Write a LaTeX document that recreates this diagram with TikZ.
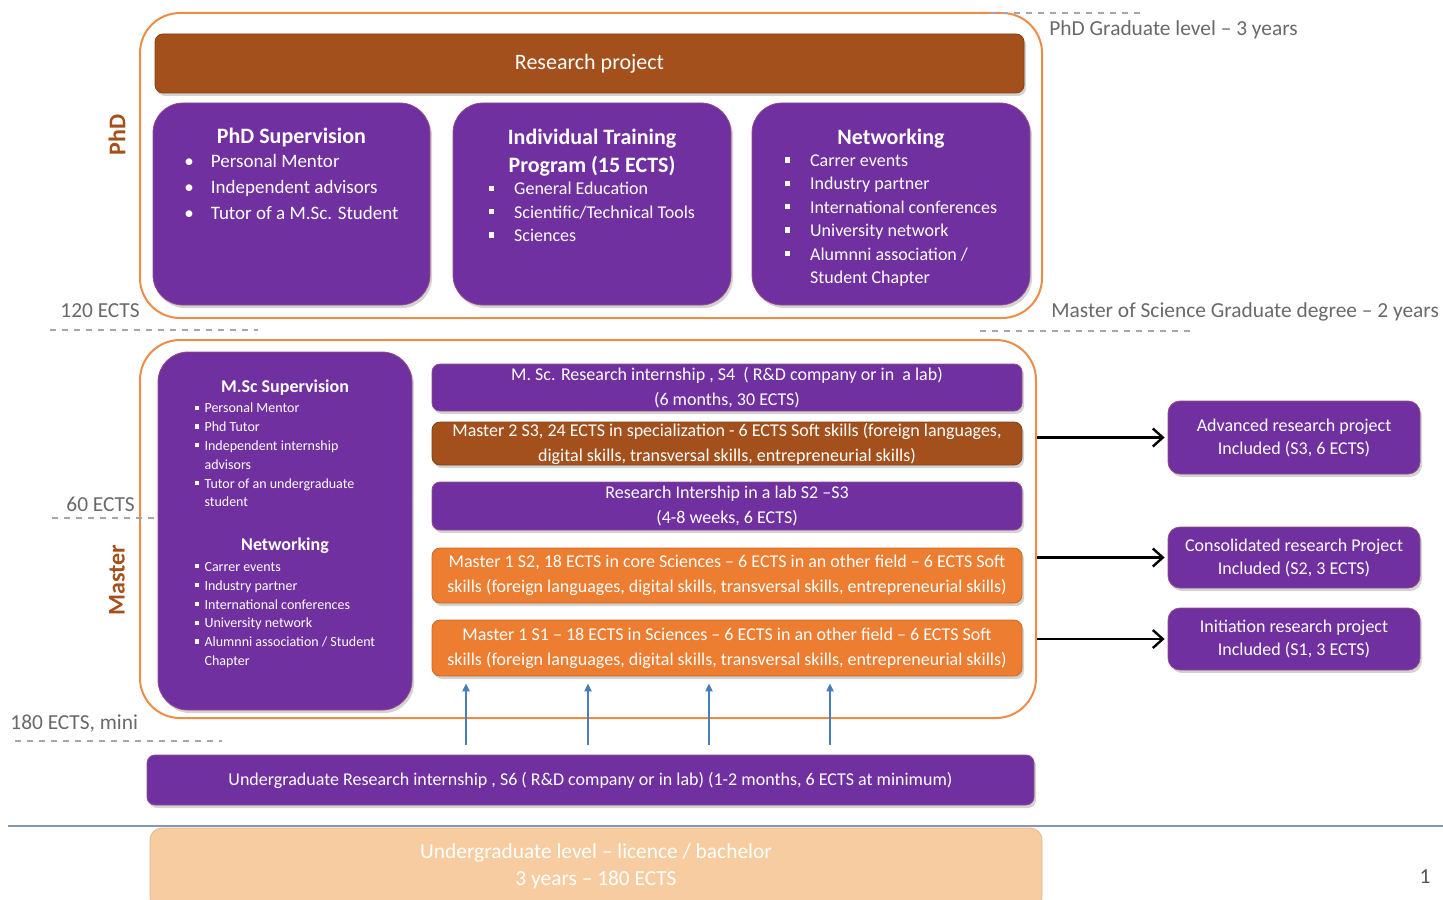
\documentclass[tikz,border=0pt]{standalone}
\usepackage{fontspec}
\setmainfont{Carlito}
\usetikzlibrary{arrows.meta, fit, positioning, shadows}

\definecolor{phdpurple}{RGB}{112,48,160}
\definecolor{rustbrown}{RGB}{163,80,28}
\definecolor{mastorange}{RGB}{237,125,49}
\definecolor{frameorange}{RGB}{236,140,72}
\definecolor{peach}{RGB}{247,204,160}
\definecolor{labelgray}{RGB}{105,105,105}
\definecolor{arrowblue}{RGB}{74,126,187}
\definecolor{rulegray}{RGB}{132,151,176}

\newcommand{\rbul}{\textbullet}
\newcommand{\sbul}{\raisebox{0.22em}{\rule{0.3em}{0.3em}}}

\begin{document}
\begin{tikzpicture}[
        x=0.5pt, y=-0.5pt,
        level-frame/.style={
            draw=frameorange,
            line width=1pt,
            rounded corners=20pt,
            inner sep=0pt,
        },
        box-purple/.style={
            fill=phdpurple,
            draw=phdpurple!70!frameorange,
            rounded corners=15pt,
            inner sep=0pt,
            text=white,
            align=center,
            drop shadow={opacity=0.35, shadow xshift=1pt, shadow yshift=-1.5pt},
        },
        bar-purple/.style={
            box-purple,
            rounded corners=4pt,
            minimum width=295pt,
            font=\fontsize{9}{12.5}\selectfont,
        },
        bar-brown/.style={
            bar-purple,
            fill=rustbrown,
            draw=rustbrown!80!black,
        },
        bar-orange/.style={
            bar-purple,
            fill=mastorange,
            draw=mastorange!85!black,
        },
        box-project/.style={
            bar-purple,
            rounded corners=6pt,
            minimum width=126pt,
            font=\fontsize{9}{11.5}\selectfont,
        },
        box-text/.style={
            text=white,
            align=center,
            inner sep=0pt,
        },
        side-label/.style={
            text=labelgray,
            font=\fontsize{10.7}{12}\selectfont,
            inner sep=0pt,
        },
        level-label/.style={
            text=rustbrown,
            font=\bfseries\fontsize{12}{14}\selectfont,
            rotate=90,
        },
        ects-line/.style={
            draw=labelgray!60,
            dashed,
            line width=0.8pt,
        },
        link-next/.style={
            line width=1.2pt,
            -{Straight Barb[length=5pt,width=9pt]},
            shorten >=1.5pt,
        },
        link-up/.style={
            draw=arrowblue,
            line width=1pt,
            -{Triangle[length=4pt,width=3.5pt]},
            shorten <=5pt,
            shorten >=3.5pt,
        },
    ]

    \useasboundingbox (0,0) rectangle (1443,899);

    % Level frames.
    \node[level-frame, fit={(140,13) (1042,318)}] (phd-frame) {};
    \node[level-frame, fit={(140,340) (1036,718)}] (msc-frame) {};

    % PhD level.
    \node[bar-brown, minimum width=434.5pt, minimum height=29.5pt, font=\fontsize{11}{13}\selectfont] (phd-project) at (589.5,63.5) {Research project};
    \node[box-purple, fit={(153,103) (430,305)}] (phd-sup) {};
    \node[box-purple, fit={(453,103) (731,305)}] (phd-train) {};
    \node[box-purple, fit={(752,103) (1030,305)}] (phd-net) {};

    \node[box-text, below=12.5pt of phd-sup.north, font=\fontsize{9.5}{13}\selectfont] (phd-sup-text) {%
        \textbf{\fontsize{11}{13.5}\selectfont PhD Supervision}\\
        \begin{tabular}{@{}l@{\hspace{0.9em}}l@{}}
            \rbul & Personal Mentor\\
            \rbul & Independent advisors\\
            \rbul & Tutor of a M.Sc. Student
        \end{tabular}};
    \node[box-text, below=13pt of phd-train.north, font=\fontsize{9}{11.7}\selectfont] (phd-train-text) {%
        \textbf{\fontsize{11}{14.5}\selectfont Individual Training}\\[2.5pt]
        \textbf{\fontsize{11}{14.5}\selectfont Program (15 ECTS)}\\
        \begin{tabular}{@{}l@{\hspace{1.1em}}l@{}}
            \sbul & General Education\\
            \sbul & Scientific/Technical Tools\\
            \sbul & Sciences
        \end{tabular}};
    \node[box-text, below=13pt of phd-net.north, font=\fontsize{9}{11.7}\selectfont] (phd-net-text) {%
        \textbf{\fontsize{11}{13}\selectfont Networking}\\
        \begin{tabular}{@{}l@{\hspace{1.1em}}l@{}}
            \sbul & Carrer events\\
            \sbul & Industry partner\\
            \sbul & International conferences\\
            \sbul & University network\\
            \sbul & Alumnni association /\\
                  & Student Chapter
        \end{tabular}};

    \node[level-label] (phd-label) at (117,135) {PhD};

    % Master level.
    \node[box-purple, fit={(158,352) (412,710)}] (msc-sup) {};
    \node[box-text, below=13.5pt of msc-sup.north, font=\fontsize{7}{9.4}\selectfont] (msc-sup-text) {%
        \begin{tabular}{@{}l@{\hspace{0.4em}}l@{}}
            \multicolumn{2}{c}{\textbf{\fontsize{9}{11}\selectfont M.Sc Supervision}}\\[1pt]
            \sbul & Personal Mentor\\
            \sbul & Phd Tutor\\
            \sbul & Independent internship\\
                  & advisors\\
            \sbul & Tutor of an undergraduate\\
                  & student\\[12.5pt]
            \multicolumn{2}{c}{\textbf{\fontsize{9}{11}\selectfont Networking}}\\[1pt]
            \sbul & Carrer events\\
            \sbul & Industry partner\\
            \sbul & International conferences\\
            \sbul & University network\\
            \sbul & Alumnni association / Student\\
                  & Chapter
        \end{tabular}};

    \node[bar-purple, minimum height=23.5pt] (m2-s4) at (727,387.5) {M. Sc. Research internship , S4 \ ( R\&D company or in \ a lab)\\(6 months, 30 ECTS)};
    \node[bar-brown, minimum height=21.5pt] (m2-s3) at (727,443.5) {Master 2 S3, 24 ECTS in specialization - 6 ECTS Soft skills (foreign languages,\\digital skills, transversal skills, entrepreneurial skills)};
    \node[bar-purple, minimum height=24pt] (m-lab) at (727,506) {Research Intership in a lab S2 –S3\\(4-8 weeks, 6 ECTS)};
    \node[bar-orange, minimum height=27.5pt] (m1-s2) at (727,575.5) {Master 1 S2, 18 ECTS in core Sciences – 6 ECTS in an other field – 6 ECTS Soft\\skills (foreign languages, digital skills, transversal skills, entrepreneurial skills)};
    \node[bar-orange, minimum height=28pt] (m1-s1) at (727,648) {Master 1 S1 – 18 ECTS in Sciences – 6 ECTS in an other field – 6 ECTS Soft\\skills (foreign languages, digital skills, transversal skills, entrepreneurial skills)};

    \node[level-label] (msc-label) at (117,580) {Master};

    % Research projects.
    \node[box-project, minimum height=36.5pt] (adv) at (1294,437.5) {Advanced research project\\Included (S3, 6 ECTS)};
    \node[box-project, minimum height=30.5pt] (cons) at (1294,557.5) {Consolidated research Project\\Included (S2, 3 ECTS)};
    \node[box-project, minimum height=31pt] (init) at (1294,639) {Initiation research project\\Included (S1, 3 ECTS)};

    \foreach \tgt in {adv, cons, init}
    \draw[link-next] (msc-frame.east |- \tgt.west) -- (\tgt.west);

    % Undergraduate level.
    \node[bar-purple, minimum width=443.5pt, minimum height=25pt] (ug-bar) at (590.5,780) {Undergraduate Research internship , S6 ( R\&D company or in lab) (1-2 months, 6 ECTS at minimum)};

    \foreach \x [count=\i] in {466, 588, 709, 830} {
        \coordinate (up\i) at (\x, 0);
        \draw[link-up] (ug-bar.north -| up\i) -- (m1-s1.south -| up\i);
    }

    \draw[rulegray, line width=1pt] (8,826) -- (1443,826);
    \node[fill=peach, draw=peach!90!black, rounded corners=6pt, inner sep=0pt, fit={(150,828) (1042,910)}] (ug-level) {};
    \node[text=white, align=center, font=\fontsize{10.7}{13.5}\selectfont] (ug-level-text) at (596,866) {Undergraduate level – licence / bachelor\\3 years – 180 ECTS};

    % ECTS marks.
    \node[side-label, anchor=west] (lbl-phd) at (1049,30) {PhD Graduate level – 3 years};
    \draw[ects-line] (990,13) -- (1140,13);
    \node[side-label, anchor=west] (lbl-msc) at (1051,312) {Master of Science Graduate degree – 2 years};
    \draw[ects-line] (980,331) -- (1190,331);
    \node[side-label, anchor=west] (lbl-120) at (60,311) {120 ECTS};
    \draw[ects-line] (50,330) -- (258,330);
    \node[side-label, anchor=west] (lbl-60) at (66,504) {60 ECTS};
    \draw[ects-line] (52,518) -- (158,518);
    \node[side-label, anchor=west] (lbl-180) at (10,723) {180 ECTS, mini};
    \draw[ects-line] (15,741) -- (222,741);

    \node[side-label, text=labelgray!80!black] (page-no) at (1425,877) {1};
\end{tikzpicture}
\end{document}
